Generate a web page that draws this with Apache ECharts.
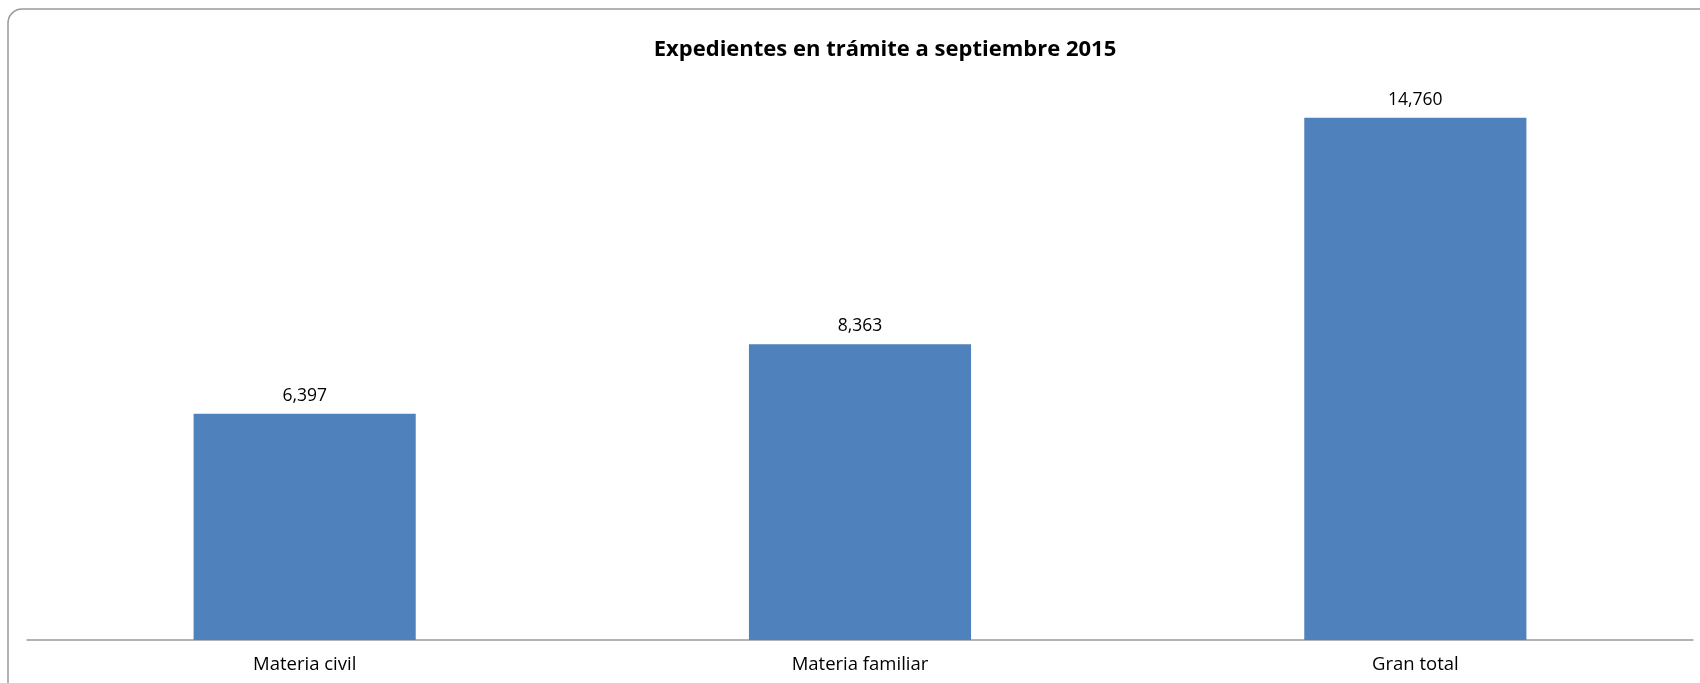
<!DOCTYPE html>
<html>
<head>
<meta charset="utf-8">
<script src="https://cdn.jsdelivr.net/npm/echarts@6/dist/echarts.min.js"></script>
<style>html,body{margin:0;padding:0;background:#fff}#c{width:1700px;height:683px}</style>
</head>
<body>
<div id="c"></div>
<script>
const categories = ['Materia civil', 'Materia familiar', 'Gran total'];
const values = [6397, 8363, 14760];
const titleText = 'Expedientes en trámite a septiembre 2015';

const chart = echarts.init(document.getElementById('c'));
chart.setOption({
  backgroundColor: '#fff',
  animation: false,
  title: {
    text: titleText,
    left: 880,
    top: 34,
    textAlign: 'center',
    textStyle: { fontFamily: 'Open Sans', fontWeight: 'bold', fontSize: 22, color: '#000' }
  },
  graphic: [{
    type: 'rect',
    shape: { x: 8, y: 9, width: 1740, height: 720, r: 14 },
    style: { fill: 'none', stroke: '#9a9a9a', lineWidth: 1.5 },
    silent: true
  }],
  grid: { left: 27, right: 7, top: 74, bottom: 43 },
  xAxis: {
    type: 'category',
    data: categories,
    axisLine: { lineStyle: { color: '#9a9a9a', width: 1.5 } },
    axisTick: { show: false },
    axisLabel: { color: '#000', fontFamily: 'Open Sans', fontSize: 18.5, margin: 15 }
  },
  yAxis: {
    type: 'value',
    min: 0,
    max: 16000,
    show: false,
    splitLine: { show: false }
  },
  series: [{
    type: 'bar',
    data: values,
    barCategoryGap: '60%',
    itemStyle: { color: '#4F81BD' },
    label: {
      show: true,
      position: 'top',
      distance: 9,
      color: '#000',
      fontFamily: 'Open Sans',
      fontSize: 17.5,
      formatter: p => p.value.toLocaleString('en-US')
    }
  }]
});
</script>
</body>
</html>
